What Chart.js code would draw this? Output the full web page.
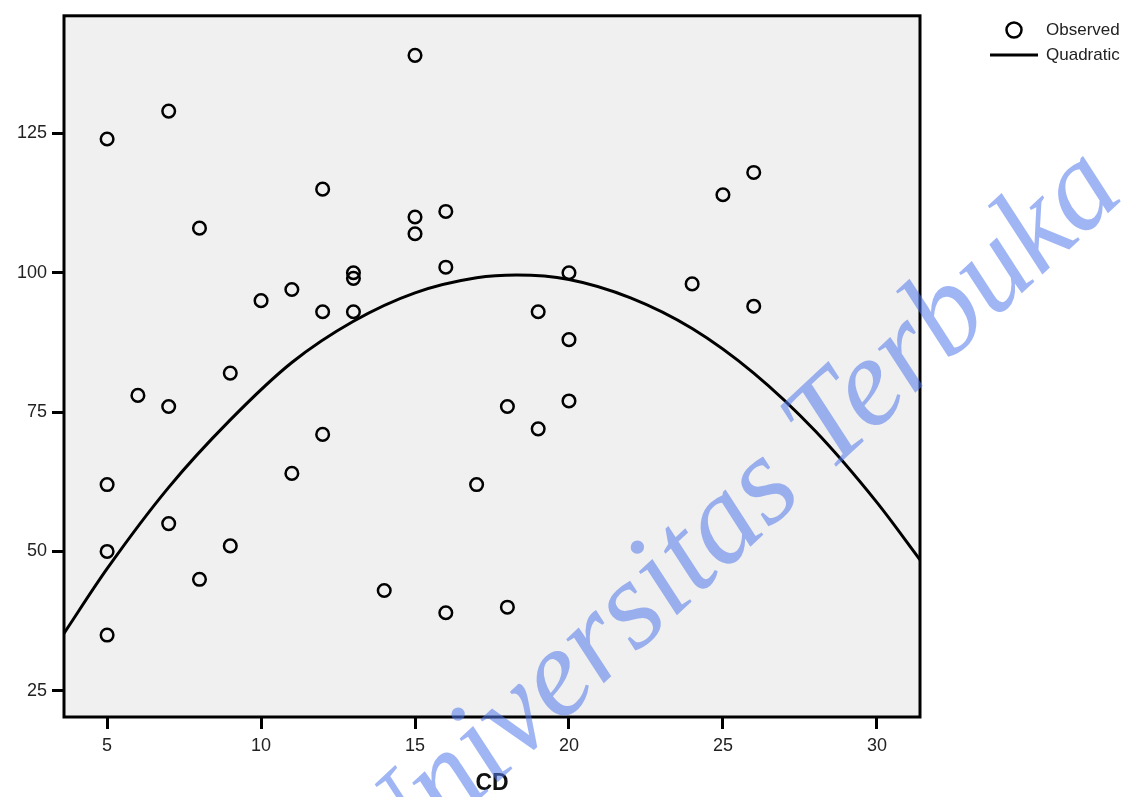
<!DOCTYPE html>
<html>
<head>
<meta charset="utf-8">
<title>CD - Quadratic</title>
<script src="https://cdn.jsdelivr.net/npm/chart.js@4.4.1/dist/chart.umd.min.js"></script>
<style>
  html, body { margin: 0; padding: 0; background: #fff; }
  #wrap { width: 1143px; height: 797px; }
</style>
</head>
<body>
<div id="wrap"><canvas id="cdChart"></canvas></div>
<script>
// observed points (CD vs value)
var cdValues = [5, 7, 15, 12, 8, 15, 15, 16, 25, 26, 13, 13, 16, 20, 10, 11, 12, 13, 24, 26,
                19, 20, 9, 6, 7, 18, 20, 12, 19, 11, 17, 5, 7, 9, 5, 8, 14, 16, 18, 5];
var observedValues = [124, 129, 139, 115, 108, 110, 107, 111, 114, 118, 100, 99, 101, 100, 95, 97, 93, 93, 98, 94,
                      93, 88, 82, 78, 76, 76, 77, 71, 72, 64, 62, 62, 55, 51, 50, 45, 43, 39, 40, 35];

// quadratic fit line
var quadX = [3.6, 5, 7, 9, 11, 13, 15, 17, 18.3, 20, 22, 24, 26, 28, 30, 31.4];
var quadY = [35.3, 46.9, 61.5, 73.6, 83.9, 91.3, 96.4, 99.1, 99.6, 98.8, 95.5, 90.0, 82.0, 71.6, 58.8, 48.5];

var xTicks = [5, 10, 15, 20, 25, 30];
var yTicks = [25, 50, 75, 100, 125];

var observedPts = cdValues.map(function(x, i) { return { x: x, y: observedValues[i] }; });
var quadPts = quadX.map(function(x, i) { return { x: x, y: quadY[i] }; });

var tickFont = { family: "'Liberation Sans', Arial, sans-serif", size: 18 };

// background, frame, legend and watermark
var decor = {
  id: 'decor',
  beforeDraw: function(chart) {
    var c = chart.ctx, a = chart.chartArea;
    c.save();
    c.fillStyle = '#fff';
    c.fillRect(0, 0, chart.width, chart.height);
    c.fillStyle = '#f0f0f0';
    c.fillRect(a.left, a.top, a.right - a.left, a.bottom - a.top);
    c.restore();
  },
  afterDatasetsDraw: function(chart) {
    var c = chart.ctx, a = chart.chartArea;
    c.save();
    c.strokeStyle = '#000';
    c.lineWidth = 3;
    c.strokeRect(a.left, a.top, a.right - a.left, a.bottom - a.top);
    c.restore();
  },
  afterDraw: function(chart) {
    var c = chart.ctx;
    var ds = chart.data.datasets;
    c.save();
    // legend
    c.strokeStyle = '#000';
    c.lineWidth = 2.5;
    c.beginPath();
    c.arc(1014, 30, 7.5, 0, Math.PI * 2);
    c.stroke();
    c.lineWidth = 3;
    c.beginPath();
    c.moveTo(990, 55);
    c.lineTo(1038, 55);
    c.stroke();
    c.fillStyle = '#222';
    c.font = "17px 'Liberation Sans', Arial, sans-serif";
    c.textBaseline = 'middle';
    c.fillText(ds[0].label, 1046, 30);
    c.fillText(ds[1].label, 1046, 55);
    // watermark
    c.translate(380, 892);
    c.rotate(-43 * Math.PI / 180);
    c.font = "italic 126px 'Liberation Serif', 'Times New Roman', serif";
    c.fillStyle = 'rgba(80, 120, 235, 0.55)';
    c.textBaseline = 'alphabetic';
    c.fillText('Universitas Terbuka', 0, 0);
    c.restore();
  }
};

var ctx = document.getElementById('cdChart');

var chart = new Chart(ctx, {
  type: 'scatter',
  data: {
    datasets: [
      {
        label: 'Observed',
        data: observedPts,
        pointStyle: 'circle',
        pointRadius: 6.3,
        pointHoverRadius: 6.3,
        pointBorderWidth: 2.5,
        borderColor: '#000',
        backgroundColor: 'rgba(0,0,0,0)'
      },
      {
        label: 'Quadratic',
        data: quadPts,
        showLine: true,
        cubicInterpolationMode: 'monotone',
        borderColor: '#000',
        borderWidth: 3,
        pointRadius: 0,
        pointHoverRadius: 0,
        fill: false
      }
    ]
  },
  options: {
    responsive: true,
    maintainAspectRatio: false,
    animation: false,
    layout: { padding: { top: 14, right: 223, left: 0, bottom: 0 } },
    plugins: {
      legend: { display: false },
      tooltip: { enabled: false }
    },
    scales: {
      x: {
        type: 'linear',
        min: 3.6,
        max: 31.4,
        afterBuildTicks: function(s) { s.ticks = xTicks.map(function(v) { return { value: v }; }); },
        afterFit: function(s) { s.height = 80; },
        border: { display: false },
        grid: { drawOnChartArea: false, drawTicks: true, tickLength: 12, lineWidth: 3, color: '#000' },
        ticks: { font: tickFont, color: '#222', padding: 6, maxRotation: 0 },
        title: {
          display: true,
          text: 'CD',
          color: '#111',
          font: { family: "'Liberation Sans', Arial, sans-serif", size: 23, weight: 'bold' },
          padding: { top: 0, bottom: 0 }
        }
      },
      y: {
        min: 20.3,
        max: 146.1,
        afterBuildTicks: function(s) { s.ticks = yTicks.map(function(v) { return { value: v }; }); },
        afterFit: function(s) { s.width = 64; },
        border: { display: false },
        grid: { drawOnChartArea: false, drawTicks: true, tickLength: 12, lineWidth: 3, color: '#000' },
        ticks: { font: tickFont, color: '#222', padding: 5 }
      }
    }
  },
  plugins: [decor]
});
</script>
</body>
</html>
